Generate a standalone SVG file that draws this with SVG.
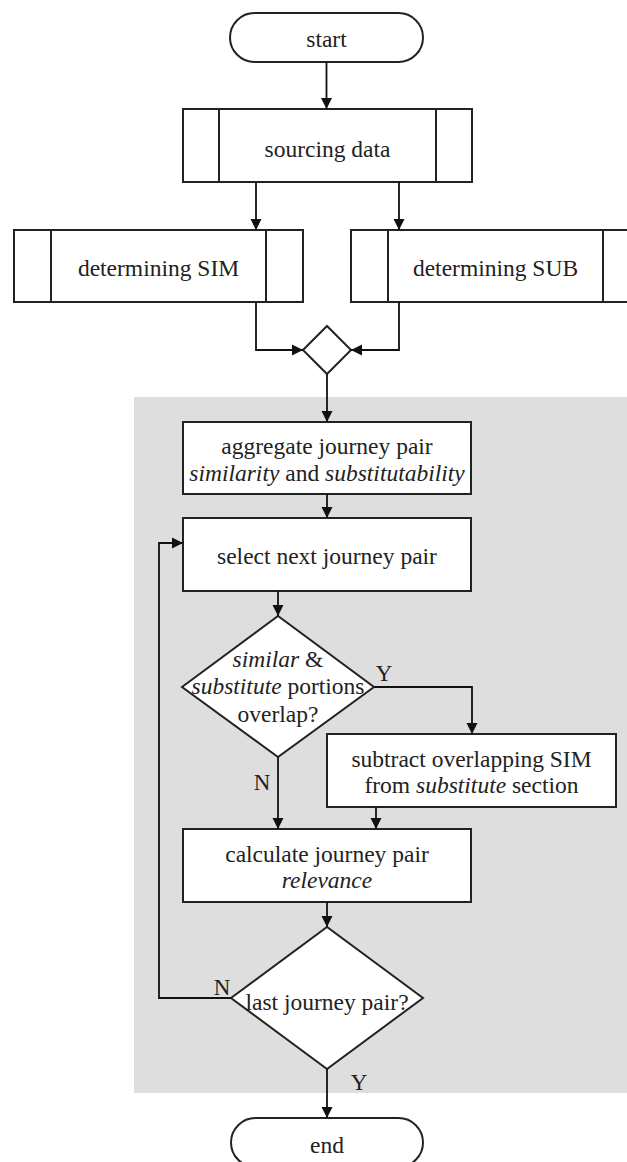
<svg xmlns="http://www.w3.org/2000/svg" width="627" height="1162" viewBox="0 0 627 1162" font-family="Liberation Serif, 'DejaVu Serif', serif">
<style>
.n{fill:#fff;stroke:#222;stroke-width:2}
.l{fill:none;stroke:#222;stroke-width:2}
.c{fill:none;stroke:#111;stroke-width:1.8}
text{font-family:'Liberation Serif',serif;font-size:23.5px;fill:#222;text-anchor:middle}
.i{font-style:italic}
.lab{font-size:23px}
</style>
<defs>
<marker id="ah" markerUnits="userSpaceOnUse" markerWidth="12" markerHeight="12" refX="11" refY="6" orient="auto">
<path d="M0,0.5 L11,6 L0,11.5 z" fill="#111"/>
</marker>
</defs>
<rect id="loop-area" x="134" y="397" width="493" height="696" fill="#dedede"/>
<g id="start"><rect class="n" x="230" y="13" width="193" height="49" rx="24.5"/><text font-family="Liberation Serif, serif" x="326.5" y="47">start</text></g>
<g id="sourcing"><rect class="n" x="183" y="109" width="289" height="73"/><line class="l" x1="219" y1="109" x2="219" y2="182"/><line class="l" x1="436" y1="109" x2="436" y2="182"/><text font-family="Liberation Serif, serif" x="327.5" y="157">sourcing data</text></g>
<g id="sim"><rect class="n" x="14" y="230" width="289" height="72"/><line class="l" x1="51" y1="230" x2="51" y2="302"/><line class="l" x1="266" y1="230" x2="266" y2="302"/><text font-family="Liberation Serif, serif" x="158.5" y="276">determining SIM</text></g>
<g id="sub"><rect class="n" x="351" y="230" width="289" height="72"/><line class="l" x1="388" y1="230" x2="388" y2="302"/><line class="l" x1="603" y1="230" x2="603" y2="302"/><text font-family="Liberation Serif, serif" x="495.5" y="276">determining SUB</text></g>
<g id="merge"><polygon class="n" points="303,350 327,326 351,350 327,374"/></g>
<g id="aggregate"><rect class="n" x="183" y="422" width="288" height="72"/><text font-family="Liberation Serif, serif" x="327" y="454">aggregate journey pair</text><text font-family="Liberation Serif, serif" x="327" y="481"><tspan class="i">similarity</tspan> and <tspan class="i">substitutability</tspan></text></g>
<g id="select"><rect class="n" x="183" y="518" width="288" height="73"/><text font-family="Liberation Serif, serif" x="327" y="564">select next journey pair</text></g>
<g id="overlap"><polygon class="n" points="182,687 278,616 374,687 278,757"/><text font-family="Liberation Serif, serif" x="278" y="667"><tspan class="i">similar</tspan> &amp;</text><text font-family="Liberation Serif, serif" x="278" y="694"><tspan class="i">substitute</tspan> portions</text><text font-family="Liberation Serif, serif" x="278" y="722">overlap?</text></g>
<g id="subtract"><rect class="n" x="327" y="734" width="289" height="73"/><text font-family="Liberation Serif, serif" x="471.5" y="767">subtract overlapping SIM</text><text font-family="Liberation Serif, serif" x="471.5" y="793">from <tspan class="i">substitute</tspan> section</text></g>
<g id="calculate"><rect class="n" x="183" y="829" width="288" height="73"/><text font-family="Liberation Serif, serif" x="327" y="862">calculate journey pair</text><text font-family="Liberation Serif, serif" x="327" y="888" class="i">relevance</text></g>
<g id="last"><polygon class="n" points="231,998 327,927 423,998 327,1069"/><text font-family="Liberation Serif, serif" x="327" y="1010">last journey pair?</text></g>
<g id="end"><rect class="n" x="231" y="1118" width="192" height="49" rx="24.5"/><text font-family="Liberation Serif, serif" x="327" y="1153">end</text></g>
<g id="connectors">
<path class="c" d="M326.5,62 V109" marker-end="url(#ah)"/>
<path class="c" d="M256,182 V230" marker-end="url(#ah)"/>
<path class="c" d="M399,182 V230" marker-end="url(#ah)"/>
<path class="c" d="M256,302 V350 H303" marker-end="url(#ah)"/>
<path class="c" d="M399,302 V350 H351" marker-end="url(#ah)"/>
<path class="c" d="M327,374 V422" marker-end="url(#ah)"/>
<path class="c" d="M327,494 V518" marker-end="url(#ah)"/>
<path class="c" d="M278,591 V616" marker-end="url(#ah)"/>
<path class="c" d="M374,687 H472 V734" marker-end="url(#ah)"/>
<path class="c" d="M278,757 V829" marker-end="url(#ah)"/>
<path class="c" d="M376,807 V829" marker-end="url(#ah)"/>
<path class="c" d="M327,902 V927" marker-end="url(#ah)"/>
<path class="c" d="M231,998 H159 V543 H183" marker-end="url(#ah)"/>
<path class="c" d="M327,1069 V1118" marker-end="url(#ah)"/>
<text font-family="Liberation Serif, serif" class="lab" x="384" y="681">Y</text>
<text font-family="Liberation Serif, serif" class="lab" x="262" y="790">N</text>
<text font-family="Liberation Serif, serif" class="lab" x="222" y="995">N</text>
<text font-family="Liberation Serif, serif" class="lab" x="359" y="1090">Y</text>
</g>
</svg>
